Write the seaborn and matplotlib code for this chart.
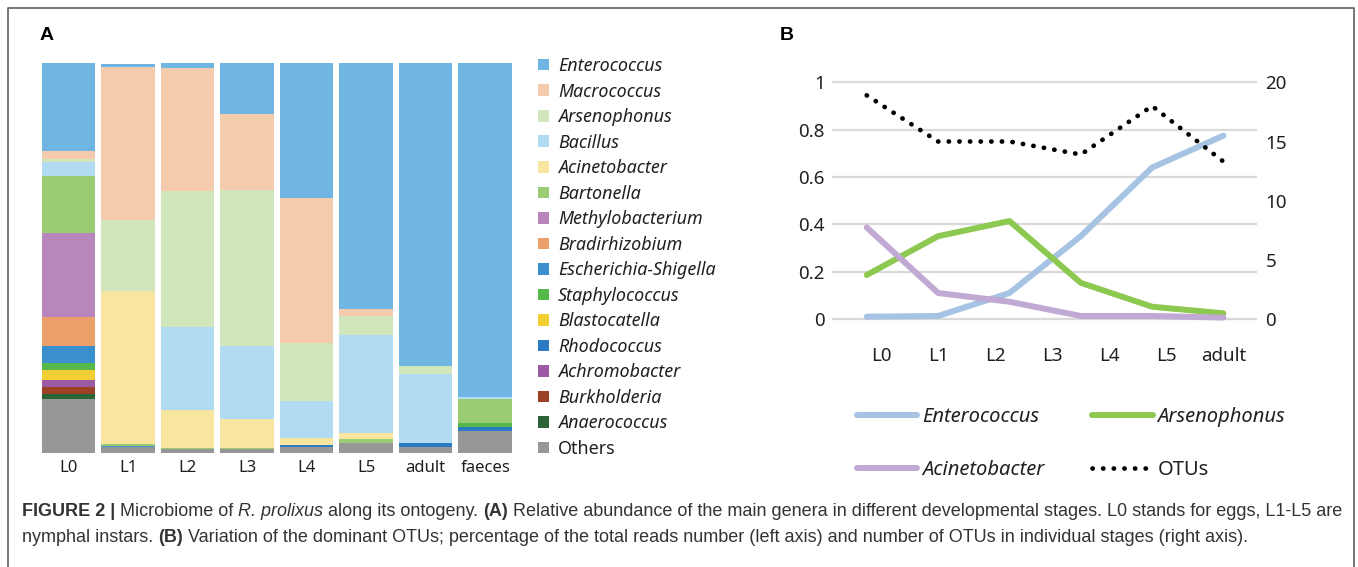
import numpy as np
import pandas as pd
import matplotlib
matplotlib.use("Agg")
import matplotlib.pyplot as plt
import seaborn as sns
from matplotlib.patches import Patch
from matplotlib.lines import Line2D
from matplotlib import font_manager as fm

# ---------------- data: panel A (relative abundance, %) ----------------
stages_a = ["L0", "L1", "L2", "L3", "L4", "L5", "adult", "faeces"]
genera = ["Enterococcus", "Macrococcus", "Arsenophonus", "Bacillus", "Acinetobacter",
          "Bartonella", "Methylobacterium", "Bradirhizobium", "Escherichia-Shigella",
          "Staphylococcus", "Blastocatella", "Rhodococcus", "Achromobacter",
          "Burkholderia", "Anaerococcus", "Others"]
enterococcus_a = [22.7, 0.9, 1.3, 12.9, 34.7, 63.2, 77.7, 85.8]
macrococcus_a = [2.0, 39.2, 31.5, 19.6, 37.2, 1.6, 0.0, 0.0]
arsenophonus_a = [0.8, 18.3, 34.8, 40.0, 14.7, 5.1, 2.0, 0.0]
bacillus_a = [3.5, 0.0, 21.5, 18.9, 9.5, 25.1, 17.8, 0.3]
acinetobacter_a = [0.0, 39.2, 9.6, 7.3, 1.9, 1.5, 0.0, 0.0]
bartonella_a = [14.6, 0.5, 0.4, 0.4, 0.0, 0.9, 0.0, 6.3]
methylobacterium_a = [21.7, 0, 0, 0, 0, 0, 0, 0]
bradirhizobium_a = [7.5, 0, 0, 0, 0, 0, 0, 0]
escherichia_a = [4.3, 0.3, 0, 0, 0, 0, 0, 0]
staphylococcus_a = [1.7, 0, 0, 0, 0, 0, 0, 1.1]
blastocatella_a = [2.6, 0, 0, 0, 0, 0, 0, 0]
rhodococcus_a = [0.0, 0, 0, 0, 0.6, 0, 1.0, 0.8]
achromobacter_a = [1.9, 0, 0, 0, 0, 0, 0, 0]
burkholderia_a = [1.7, 0, 0, 0, 0, 0, 0, 0]
anaerococcus_a = [1.2, 0, 0, 0, 0, 0, 0, 0]
others_a = [13.9, 1.5, 0.9, 0.9, 1.4, 2.6, 1.5, 5.7]
abundance = [enterococcus_a, macrococcus_a, arsenophonus_a, bacillus_a, acinetobacter_a,
             bartonella_a, methylobacterium_a, bradirhizobium_a, escherichia_a,
             staphylococcus_a, blastocatella_a, rhodococcus_a, achromobacter_a,
             burkholderia_a, anaerococcus_a, others_a]
genus_colors = ["#6fb6e3", "#f5cbae", "#d1e6bd", "#b0dbf2", "#f8e59f", "#9bcc75",
                "#b885bc", "#eaa068", "#3a8fcd", "#55b848", "#f2cf33", "#2a7ac4",
                "#9b5aa3", "#9b4226", "#2b6436", "#979797"]

# ---------------- data: panel B ----------------
stage_labels_b = ["L0", "L1", "L2", "L3", "L4", "L5", "adult"]
enterococcus_b = [0.01, 0.013, 0.11, 0.35, 0.64, 0.775]
arsenophonus_b = [0.186, 0.35, 0.414, 0.153, 0.052, 0.024]
acinetobacter_b = [0.387, 0.11, 0.073, 0.013, 0.013, 0.006]
otus_b = [18.9, 15.0, 15.0, 13.9, 18.0, 13.3]
left_ticks = [0, 0.2, 0.4, 0.6, 0.8, 1.0]
left_tick_labels = ["0", "0.2", "0.4", "0.6", "0.8", "1"]
right_ticks = [0, 5, 10, 15, 20]
right_tick_labels = ["0", "5", "10", "15", "20"]

# ---------------- style ----------------
sns.set_theme(style="white")


def has_font(name):
    try:
        fm.findfont(fm.FontProperties(family=name), fallback_to_default=False)
        return True
    except Exception:
        return False


main_font = "Noto Sans" if has_font("Noto Sans") else "DejaVu Sans"
cap_font = "Liberation Sans"
narrow_font = "Liberation Sans Narrow" if has_font("Liberation Sans Narrow") else "Liberation Sans"
plt.rcParams["font.family"] = [main_font, "DejaVu Sans"]
TXT = "#231f20"

W, H = 1358, 567
fig = plt.figure(figsize=(W / 100, H / 100), dpi=100)


def ax_rect(x0, y0, x1, y1):
    return [x0 / W, 1 - y1 / H, (x1 - x0) / W, (y1 - y0) / H]


# ---------------- panel A ----------------
axA = fig.add_axes(ax_rect(38.7, 63.3, 515, 452.7))
mat = np.array(abundance, dtype=float)
cum = mat[::-1].cumsum(axis=0)[::-1]
for i, g in enumerate(genera):
    sns.barplot(x=stages_a, y=cum[i], order=stages_a, color=genus_colors[i],
                saturation=1, width=0.9, errorbar=None, linewidth=0,
                edgecolor="none", ax=axA)
axA.set_ylim(0, 100)
axA.set_xlim(-0.5, len(stages_a) - 0.5)
axA.set_yticks([])
axA.set_xlabel("")
axA.set_ylabel("")
for s in axA.spines.values():
    s.set_visible(False)
axA.tick_params(axis="x", length=0, pad=5, labelsize=12, labelcolor=TXT)

handlesA = [Patch(facecolor=c, edgecolor="none") for c in genus_colors]
legA = fig.legend(handlesA, genera, loc="upper left", bbox_to_anchor=(538 / W, 1 - 57 / H),
                  frameon=False, fontsize=12.9, handlelength=0.62, handleheight=0.62,
                  handletextpad=0.5, labelspacing=0.42, borderpad=0, borderaxespad=0)
for t in legA.get_texts():
    t.set_color(TXT)
    if t.get_text() != "Others":
        t.set_fontstyle("italic")

# ---------------- panel B ----------------
axB = fig.add_axes(ax_rect(832, 70.5, 1257, 342.7))
xs = np.arange(len(enterococcus_b))
line_specs = [(enterococcus_b, "#a6c3e4"), (arsenophonus_b, "#8dc850"),
              (acinetobacter_b, "#c0a9d3")]
for vals, col in line_specs:
    sns.lineplot(x=xs, y=vals, ax=axB, color=col, linewidth=4.3,
                 solid_capstyle="round", solid_joinstyle="round", legend=False)
axB.set_ylim(-0.1, 1.05)
axB.set_xlim(-0.487, 5.47)
axB.set_yticks(left_ticks)
axB.set_yticklabels(left_tick_labels)
axB.set_xticks(np.linspace(0.2, 5.0, len(stage_labels_b)))
axB.set_xticklabels(stage_labels_b)
axB.yaxis.grid(True, color="#d9d9d9", linewidth=1.6)
axB.xaxis.grid(False)
axB.set_axisbelow(True)
axB.set_xlabel("")
axB.set_ylabel("")
for s in axB.spines.values():
    s.set_visible(False)
axB.tick_params(axis="y", length=0, pad=5, labelsize=13.5, labelcolor=TXT)
axB.tick_params(axis="x", length=0, pad=3, labelsize=13.5, labelcolor=TXT)

axB2 = axB.twinx()
sns.lineplot(x=xs, y=otus_b, ax=axB2, color="black", linewidth=3.4,
             linestyle=(0, (0.05, 2.2)), dash_capstyle="round", legend=False)
axB2.set_ylim(-2, 21)
axB2.set_yticks(right_ticks)
axB2.set_yticklabels(right_tick_labels)
axB2.set_ylabel("")
axB2.grid(False)
for s in axB2.spines.values():
    s.set_visible(False)
axB2.tick_params(axis="y", length=0, pad=6, labelsize=13.5, labelcolor=TXT)

handlesB = [Line2D([], [], color="#a6c3e4", lw=4.3, solid_capstyle="round"),
            Line2D([], [], color="#c0a9d3", lw=4.3, solid_capstyle="round"),
            Line2D([], [], color="#8dc850", lw=4.3, solid_capstyle="round"),
            Line2D([], [], color="black", lw=3.4, linestyle=(0, (0.05, 2.2)),
                   dash_capstyle="round")]
labelsB = ["Enterococcus", "Acinetobacter", "Arsenophonus", "OTUs"]
legB = fig.legend(handlesB, labelsB, loc="upper left", bbox_to_anchor=(857 / W, 1 - 407 / H),
                  ncol=2, frameon=False, fontsize=14.5, handlelength=3.0,
                  handletextpad=0.22, columnspacing=2.4, labelspacing=1.62,
                  borderpad=0, borderaxespad=0)
for t in legB.get_texts():
    t.set_color(TXT)
    if t.get_text() != "OTUs":
        t.set_fontstyle("italic")

# ---------------- panel letters ----------------
fig.text(47 / W, 1 - 35 / H, "A", fontsize=14, fontweight="bold", va="center",
         ha="center", family=[narrow_font, "DejaVu Sans"], color="black")
fig.text(787 / W, 1 - 35 / H, "B", fontsize=14, fontweight="bold", va="center",
         ha="center", family=[narrow_font, "DejaVu Sans"], color="black")

# ---------------- caption ----------------
renderer = fig.canvas.get_renderer()
CAP = "#333333"

line1 = [("FIGURE 2 |", "bold", "normal"), ("Microbiome of", "normal", "normal"),
         ("R. prolixus", "normal", "italic"), ("along its ontogeny.", "normal", "normal"),
         ("(A)", "bold", "normal"),
         ("Relative abundance of the main genera in different developmental stages. L0 stands for eggs, L1-L5 are",
          "normal", "normal")]
line2 = [("nymphal instars.", "normal", "normal"), ("(B)", "bold", "normal"),
         ("Variation of the dominant OTUs; percentage of the total reads number (left axis) and number of OTUs in individual stages (right axis).",
          "normal", "normal")]


def text_w(s, size, weight="normal", style="normal"):
    t = fig.text(0, 0, s, fontsize=size, fontweight=weight, fontstyle=style,
                 family=[cap_font, "DejaVu Sans"])
    w = t.get_window_extent(renderer=renderer).width
    t.remove()
    return w


def runs_width(runs, size):
    sp = text_w("x x", size) - text_w("xx", size)
    return sum(text_w(t, size, w, s) for t, w, s in runs) + sp * (len(runs) - 1)


base = 11.0
cap_size = base * (1339 - 22) / runs_width(line1, base)


def draw_runs(runs, x0, y):
    sp = text_w("x x", cap_size) - text_w("xx", cap_size)
    x = x0
    for txt, weight, style in runs:
        t = fig.text(x / W, 1 - y / H, txt, fontsize=cap_size, fontweight=weight,
                     fontstyle=style, family=[cap_font, "DejaVu Sans"], va="center",
                     ha="left", color=CAP)
        x += t.get_window_extent(renderer=renderer).width + sp


draw_runs(line1, 22, 512)
draw_runs(line2, 22, 537)

# ---------------- frame ----------------
fig.add_artist(Line2D([7.5 / W, 7.5 / W, 1354 / W, 1354 / W], [0, 1 - 8 / H, 1 - 8 / H, 0],
                      transform=fig.transFigure, color="#6b6b6b", lw=1.3))

fig.savefig("out.png", dpi=100)
